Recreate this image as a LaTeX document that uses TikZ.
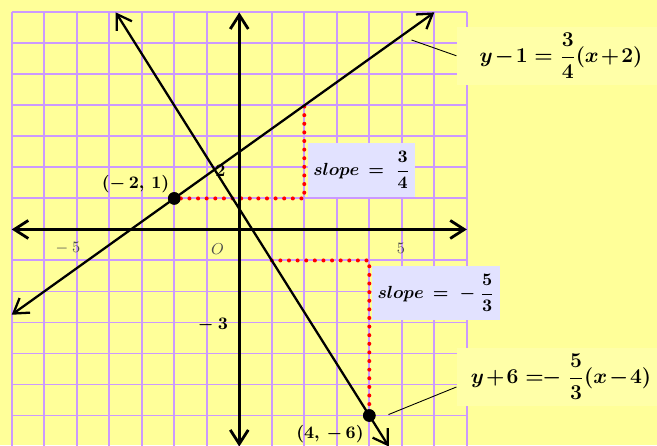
\documentclass[tikz,border=0pt]{standalone}
\usepackage{amsmath,amssymb}
\usepackage{xcolor}
\usepackage{tikz}
\usetikzlibrary{arrows.meta,positioning,calc}
\definecolor{paper}{HTML}{FFFF99}
\definecolor{eqpaper}{HTML}{FFFFA8}
\definecolor{lilac}{HTML}{CC99FF}
\definecolor{slopebg}{HTML}{E2E2FF}
\newcommand{\snug}{\medmuskip=1.5mu\relax}

\begin{document}
\begin{tikzpicture}[
  x=0.65cm, y=0.62cm,
  gridln/.style ={lilac, line width=1.1pt},
  ar/.style     ={{Straight Barb[length=2.8mm,width=3.6mm]}-{Straight Barb[length=2.8mm,width=3.6mm]}},
  axis/.style   ={ar, line width=1.6pt},
  ln/.style     ={ar, line width=1.3pt},
  rise/.style   ={red, line width=2.3pt, line cap=round, dash pattern=on 0pt off 4.9pt},
  pnt/.style    ={circle, fill=black, inner sep=0pt, minimum size=2.5mm},
  slp/.style    ={fill=slopebg, font=\boldmath, inner xsep=3pt, minimum height=10.7mm},
  eqn/.style    ={fill=eqpaper, font=\large\boldmath, minimum width=4.17cm, minimum height=11.6mm},
  tag/.style    ={black, line width=0.5pt},
  lbl/.style    ={text=black!70, font=\small},
  blbl/.style   ={font=\boldmath}
]
\fill[paper, use as bounding box] (-7.36,-6.96) rectangle (12.85,7.40);
\clip (-7.36,-6.96) rectangle (12.85,7.40);

% ---------- grid ----------
\draw[gridln, xstep=0.65cm, ystep=0.62cm] (-7,-7) grid (7,7);

% ---------- equations ----------
\node[eqn] (eqA) at (9.9,5.6)   {$\snug y-1=\dfrac{3}{4}(x+2)$};
\node[eqn] (eqB) at (9.9,-4.75) {$\snug y+6\mathrel{=\!\!-}\dfrac{5}{3}(x-4)$};

% ---------- rise and run ----------
\node[pnt] (pA) at (-2,1) {};
\node[pnt] (pB) at (4,-6) {};
\coordinate (cA) at (2,1);
\coordinate (tA) at (2,4);
\coordinate (sB) at (1,-1);
\coordinate (cB) at (4,-1);
\draw[rise] (pA) -- (cA) -- (tA);
\draw[rise] (sB) -- (cB) -- (pB);

% ---------- axes ----------
\node[blbl] (two)   at (-0.58,1.9)  {$2$};
\draw[axis] (-7,0) -- (7,0);
\draw[axis] (0,-7) -- (0,7);
\node[lbl]  (orig)  at (-0.67,-0.62) {$O$};
\node[lbl]  (mfive) at (-5.27,-0.6)  {$-\:5$};
\node[lbl]  (five)  at (4.97,-0.6)   {$5$};
\node[blbl] (mthr)  at (-0.81,-3.07) {$-\:3$};

% ---------- the two lines ----------
\coordinate (a1) at (-7,-2.75);
\coordinate (a2) at (6,7);
\coordinate (b1) at (-3.8,7);
\coordinate (b2) at (4.6,-7);
\draw[ln] (a1) -- (a2);
\draw[ln] (b1) -- (b2);
\node[pnt] at (pA) {};
\node[pnt] at (pB) {};

\node[blbl] (lpA) at (-3.19,1.47) {$(-\,2,\,1)$};
\node[blbl] (lpB) at (2.79,-6.6)  {$(4,\,-\,6)$};

\node[slp] (slA) at (3.76,1.92)  {$slope\,=\;\dfrac{3}{4}$};
\node[slp] (slB) at (6.05,-2.05) {$slope\,=\;-\:\dfrac{5}{3}$};

% ---------- tags ----------
\coordinate (tgA) at (5.30,6.11);
\coordinate (tgB) at (4.59,-5.97);
\draw[tag] (tgA) -- (eqA.west);
\draw[tag] (tgB) -- ($(eqB.west)+(0,-0.33)$);
\end{tikzpicture}
\end{document}
